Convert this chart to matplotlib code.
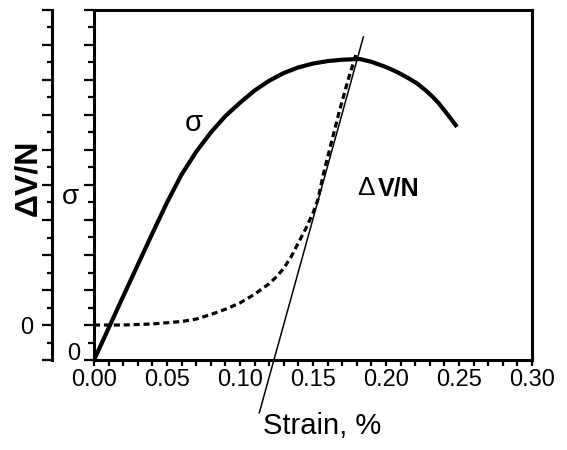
import matplotlib
matplotlib.use("Agg")
import matplotlib.pyplot as plt
from matplotlib.ticker import MultipleLocator, FixedLocator, FixedFormatter

plt.rcParams['font.family'] = ['Liberation Sans Narrow', 'Liberation Sans', 'DejaVu Sans']

# Stress curve (strain in %, stress in arbitrary axis units)
strain_sigma = [0.000, 0.010, 0.020, 0.030, 0.040, 0.050, 0.060, 0.070, 0.080,
                0.090, 0.100, 0.110, 0.120, 0.130, 0.140, 0.150, 0.160, 0.170,
                0.182, 0.190, 0.200, 0.2075, 0.215, 0.221, 0.227, 0.232, 0.236,
                0.240, 0.2445, 0.2486]
sigma = [0.00, 0.91, 1.82, 2.72, 3.62, 4.50, 5.30, 5.95, 6.50,
         6.97, 7.35, 7.70, 7.98, 8.20, 8.36, 8.47, 8.54, 8.58,
         8.60, 8.52, 8.37, 8.23, 8.06, 7.91, 7.71, 7.52, 7.34,
         7.13, 6.89, 6.66]

# Volumetric strain curve (arbitrary units, zero offset on its own axis)
strain_dv = [0.000, 0.020, 0.040, 0.060, 0.070, 0.080, 0.090, 0.100, 0.110,
             0.120, 0.125, 0.130, 0.135, 0.140, 0.145, 0.150, 0.1535, 0.157,
             0.1625, 0.168, 0.174, 0.180]
dv = [0.00, 0.00, 0.03, 0.10, 0.17, 0.30, 0.45, 0.63, 0.88,
      1.18, 1.38, 1.62, 1.95, 2.35, 2.75, 3.20, 3.60, 4.30,
      5.20, 6.10, 7.00, 7.80]

# Tangent line to the volumetric curve
tangent_strain = [0.1132, 0.1845]
tangent_dv = [-2.51, 8.23]

x_ticks = [0.00, 0.05, 0.10, 0.15, 0.20, 0.25, 0.30]
x_tick_labels = ["0.00", "0.05", "0.10", "0.15", "0.20", "0.25", "0.30"]

W, H = 567, 450
fig = plt.figure(figsize=(W / 100, H / 100), dpi=100)
ax = fig.add_axes([94 / W, 90 / H, 438 / W, 350 / H])

ax.plot(strain_sigma, sigma, color='black', lw=3.0, solid_joinstyle='round',
        solid_capstyle='butt', zorder=3)
ax.set_xlim(0, 0.30)
ax.set_ylim(0, 10)

for s in ax.spines.values():
    s.set_linewidth(2.2)

ax.xaxis.set_major_locator(FixedLocator(x_ticks))
ax.xaxis.set_major_formatter(FixedFormatter(x_tick_labels))
ax.xaxis.set_minor_locator(MultipleLocator(0.01))
ax.tick_params(axis='x', which='major', direction='out', length=4.5, width=1.6,
               labelsize=17, pad=2)
ax.tick_params(axis='x', which='minor', direction='out', length=4, width=1.6)

ax.yaxis.set_major_locator(FixedLocator(list(range(0, 11))))
ax.yaxis.set_minor_locator(MultipleLocator(0.5))
ax.set_yticklabels([""] * 11)
ax.tick_params(axis='y', which='major', direction='out', length=7.2, width=1.6)
ax.tick_params(axis='y', which='minor', direction='out', length=4.5, width=1.6)
ax.tick_params(axis='both', top=False, right=False, which='both')

# Second vertical axis for the volumetric strain, offset to the left
ax2 = ax.twinx()
ax2.set_ylim(-1, 9)
ax2.spines['right'].set_visible(False)
ax2.spines['top'].set_visible(False)
ax2.spines['bottom'].set_visible(False)
ax2.spines['left'].set_visible(True)
ax2.spines['left'].set_position(('outward', 30.24))
ax2.spines['left'].set_linewidth(2.2)
ax2.yaxis.set_ticks_position('left')
ax2.yaxis.set_label_position('left')
ax2.yaxis.set_major_locator(FixedLocator(list(range(-1, 10))))
ax2.yaxis.set_minor_locator(MultipleLocator(0.5))
ax2.set_yticklabels([""] + ["0"] + [""] * 9)
ax2.tick_params(axis='y', which='major', direction='out', length=7.2, width=1.6,
                labelsize=17, pad=6)
ax2.tick_params(axis='y', which='minor', direction='out', length=3.6, width=1.6)
ax2.tick_params(axis='y', right=False, labelright=False, which='both')

ax2.plot(strain_dv, dv, color='black', lw=2.3, linestyle=(0, (1.9, 1.2)), zorder=3)
ax2.plot(tangent_strain, tangent_dv, color='black', lw=1.1, clip_on=False, zorder=4)

# Curve annotations
ax.text(0.0685, 6.77, "σ", fontsize=21, ha='center', va='center')
ax.text(0.186, 4.91, "Δ", fontsize=19, ha='center', va='center',
        family=['Liberation Sans', 'DejaVu Sans'])
ax.text(0.1945, 4.91, "V/N", fontsize=18, fontweight='bold', ha='left', va='center',
        family=['Liberation Sans', 'DejaVu Sans'])

# Zero of the stress axis, sitting just above the strain tick labels
fig.text(74 / W, 1 - 354 / H, "0", fontsize=17, ha='center', va='center')

# Axis titles
fig.text(70 / W, 1 - 197 / H, "σ", fontsize=20, ha='center', va='center')
fig.text(28 / W, 1 - 178 / H, "ΔV/N", fontsize=23, fontweight='bold', rotation=90,
         ha='center', va='center')
fig.text(322 / W, 1 - 426 / H, "Strain, %", fontsize=21, ha='center', va='center')

fig.savefig("out.png", dpi=100)
